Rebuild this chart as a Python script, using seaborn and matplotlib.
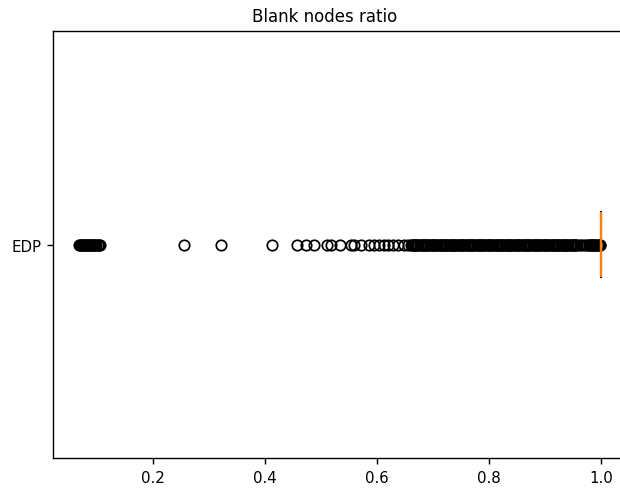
import matplotlib
matplotlib.use("Agg")
import matplotlib.pyplot as plt
import seaborn as sns
import pandas as pd

category = "EDP"
title = "Blank nodes ratio"

low_cluster = [0.068, 0.070, 0.072, 0.074, 0.075, 0.077, 0.079, 0.080, 0.082,
               0.084, 0.085, 0.087, 0.089, 0.091, 0.093, 0.095, 0.097, 0.099,
               0.101, 0.103, 0.105]
mid_points = [0.256, 0.321, 0.412, 0.458, 0.473, 0.488, 0.511, 0.518, 0.534,
              0.554, 0.559, 0.571, 0.586, 0.594, 0.604, 0.613, 0.619, 0.628,
              0.637, 0.648, 0.655]
dense_band = [0.660, 0.662, 0.664, 0.666, 0.668, 0.670, 0.672, 0.674, 0.676,
              0.678, 0.680, 0.682, 0.684, 0.686, 0.688, 0.690, 0.692, 0.694,
              0.696, 0.698, 0.700, 0.702, 0.704, 0.706, 0.708, 0.710, 0.712,
              0.714, 0.716, 0.718, 0.720, 0.722, 0.724, 0.726, 0.728, 0.730,
              0.732, 0.734, 0.736, 0.738, 0.740, 0.742, 0.744, 0.746, 0.748,
              0.750, 0.752, 0.754, 0.756, 0.758, 0.760, 0.762, 0.764, 0.766,
              0.768, 0.770, 0.772, 0.774, 0.776, 0.778, 0.780, 0.782, 0.784,
              0.786, 0.788, 0.790, 0.792, 0.794, 0.796, 0.798, 0.800, 0.802,
              0.804, 0.806, 0.808, 0.810, 0.812, 0.814, 0.816, 0.818, 0.820,
              0.822, 0.824, 0.826, 0.828, 0.830, 0.832, 0.834, 0.836, 0.838,
              0.840, 0.842, 0.844, 0.846, 0.848, 0.850, 0.852, 0.854, 0.856,
              0.858, 0.860, 0.862, 0.864, 0.866, 0.868, 0.870, 0.872, 0.874,
              0.876, 0.878, 0.880, 0.882, 0.884, 0.886, 0.888, 0.890, 0.892,
              0.894, 0.896, 0.898, 0.900, 0.902, 0.904, 0.906, 0.908, 0.910,
              0.912, 0.914, 0.916, 0.918, 0.920, 0.922, 0.924, 0.926, 0.928,
              0.930, 0.932, 0.934, 0.936, 0.938, 0.940, 0.942, 0.944, 0.946,
              0.948, 0.950, 0.952, 0.954, 0.956, 0.958]
high_cluster = [0.962, 0.967, 0.972, 0.976, 0.978, 0.980, 0.982, 0.984, 0.986,
                0.988, 0.990, 0.992, 0.994, 0.996, 0.998, 0.999]
full_ratio_count = 900
full_ratio_value = 1.0

values = low_cluster + mid_points + dense_band + high_cluster + [full_ratio_value] * full_ratio_count
df = pd.DataFrame({"ratio": values, "dataset": [category] * len(values)})

s = 1.25  # line / marker scale of the reference

fig = plt.figure(figsize=(6.2, 4.89), dpi=100)
ax = fig.add_axes([53 / 620, 1 - 459 / 489, (627 - 53) / 620, (459 - 32) / 489])

sns.boxplot(
    data=df, x="ratio", y="dataset", orient="h", ax=ax,
    width=0.15, fill=False, color="black", linecolor="black", linewidth=1.0 * s,
    fliersize=6 * s,
    flierprops=dict(marker="o", markerfacecolor="none", markeredgecolor="black",
                    markeredgewidth=1.0 * s),
    medianprops=dict(color="#ff7f0e", linewidth=1.4 * s, zorder=5, alpha=1.0),
)

ax.set_xlabel("")
ax.set_ylabel("")
ax.set_title(title, fontsize=12, x=(325 - 53) / 574, pad=7)
ax.set_xticks([0.2, 0.4, 0.6, 0.8, 1.0])
ax.set_xlim(0.0214, 1.0466)
ax.tick_params(labelsize=10.8, length=3.5 * s, width=0.8 * s, pad=4)
for sp in ax.spines.values():
    sp.set_linewidth(0.8 * s)

fig.savefig("out.png", dpi=100)
